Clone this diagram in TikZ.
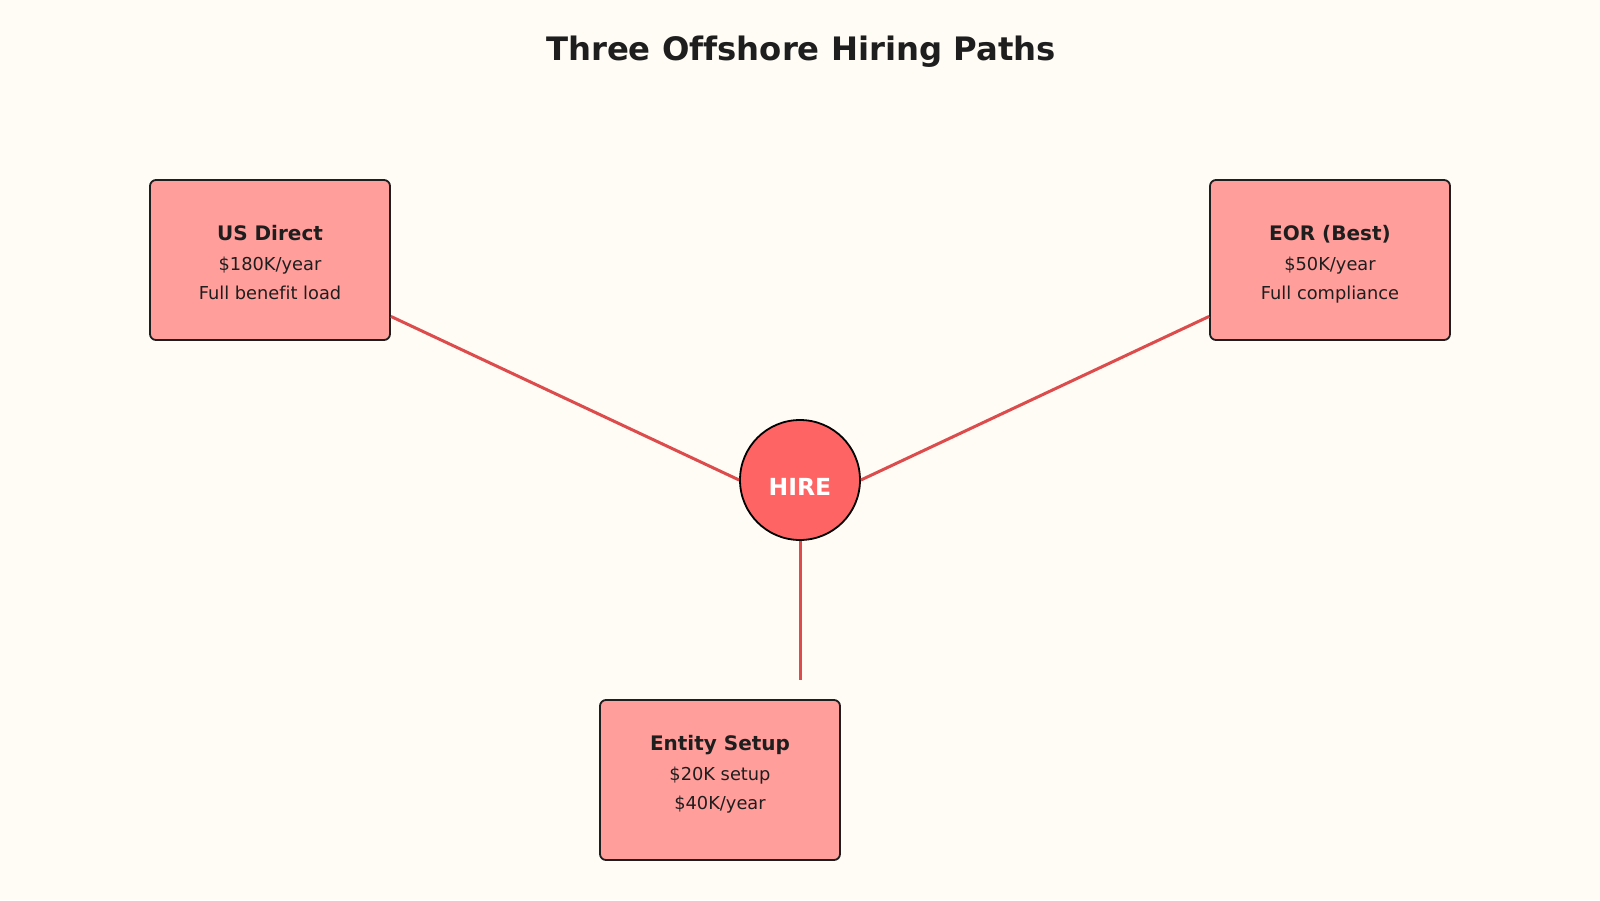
\documentclass[tikz,border=0pt]{standalone}
\usepackage{fontspec}
\setmainfont[Ligatures=NoCommon]{DejaVu Sans}
\definecolor{bgc}{HTML}{FFFCF5}
\definecolor{boxc}{HTML}{FF9E9B}
\definecolor{hubc}{HTML}{FF6464}
\definecolor{linec}{HTML}{DC4C4C}
\definecolor{txtc}{HTML}{1E1E1E}
\tikzset{
  pathbox/.style={draw=txtc, line width=1.8pt, fill=boxc, rounded corners=6pt,
    minimum width=240pt, minimum height=160pt, inner sep=0pt},
  boxhead/.style={anchor=base, inner sep=0pt, text=txtc, font=\fontsize{20}{24}\selectfont\bfseries},
  boxline/.style={anchor=base, inner sep=0pt, text=txtc, font=\fontsize{17.8}{21}\selectfont},
  hub/.style={circle, draw=black, line width=1.8pt, fill=hubc, minimum size=120pt, inner sep=0pt},
  hubtext/.style={anchor=base, inner sep=0pt, text=white, font=\fontsize{23.5}{28}\selectfont\bfseries},
  link/.style={draw=linec, line width=3pt},
  ttl/.style={anchor=base, inner sep=0pt, text=txtc, font=\fontsize{32.3}{38}\selectfont\bfseries}
}
\begin{document}
\begin{tikzpicture}[x=1pt,y=-1pt]
\fill[bgc] (0,0) rectangle (1600,900);
\useasboundingbox (0,0) rectangle (1600,900);
\node[ttl] (title) at (801,60) {Three Offshore Hiring Paths};
% boxes
\node[pathbox] (us) at (270,260) {};
\node[pathbox] (eor) at (1330,260) {};
\node[pathbox] (ent) at (720,780) {};
\node[boxhead] (us1) at (270,240) {US Direct};
\node[boxline] (us2) at (270,270) {\$180K/year};
\node[boxline] (us3) at (270,299.5) {Full benefit load};
\node[boxhead] (eor1) at (1330,240) {EOR (Best)};
\node[boxline] (eor2) at (1330,270) {\$50K/year};
\node[boxline] (eor3) at (1330,299.5) {Full compliance};
\node[boxhead] (ent1) at (720,750) {Entity Setup};
\node[boxline] (ent2) at (720,780) {\$20K setup};
\node[boxline] (ent3) at (720,809.5) {\$40K/year};
% hub
\node[hub] (hire) at (800,480) {};
\node[hubtext] (hiret) at (800,495) {HIRE};
\coordinate (entend) at (800,680);
\draw[link] (hire.west) -- (us);
\draw[link] (hire.east) -- (eor);
\draw[link] (hire.south) -- (entend);
\end{tikzpicture}
\end{document}
